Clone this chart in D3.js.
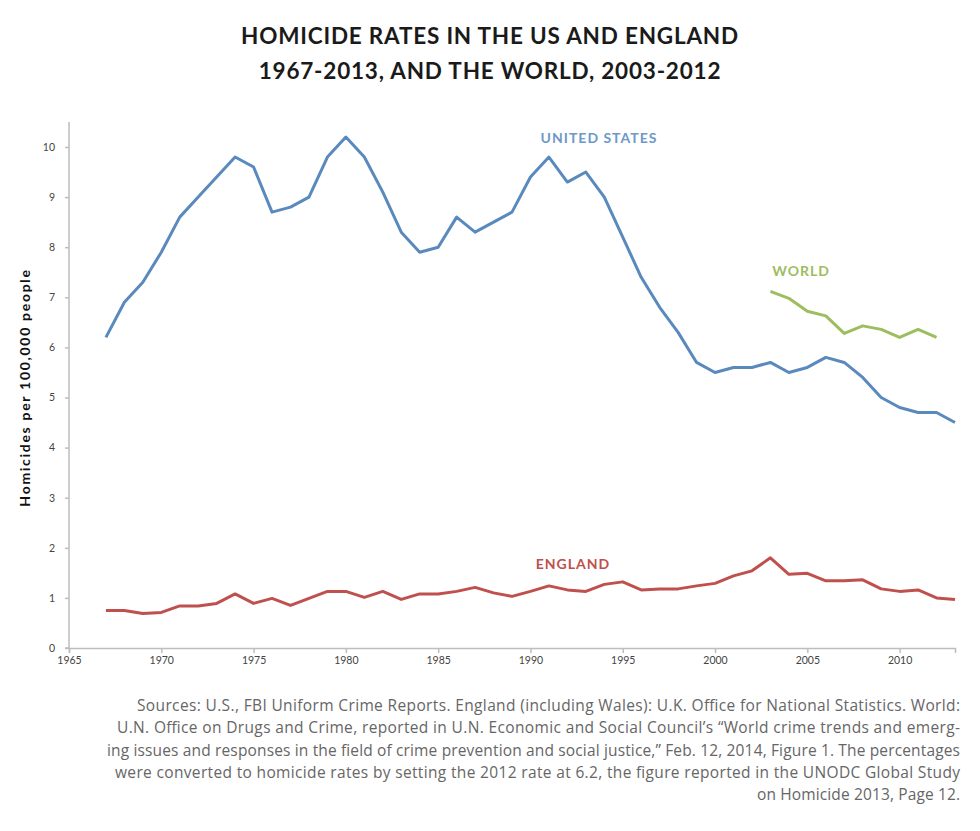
<!DOCTYPE html>
<html>
<head>
<meta charset="utf-8">
<script src="https://cdn.jsdelivr.net/npm/d3@7"></script>
<style>
  body { margin: 0; background: #fff; }
  svg text { font-family: Lato, "Open Sans", sans-serif; }
  svg text.src { font-family: "Open Sans", sans-serif; }
</style>
</head>
<body>
<div id="chart"></div>
<script>
const usYears = d3.range(1967, 2014);
const usRates = [6.2, 6.9, 7.3, 7.9, 8.6, 9.0, 9.4, 9.8, 9.6, 8.7,
  8.8, 9.0, 9.8, 10.2, 9.8, 9.1, 8.3, 7.9, 8.0, 8.6,
  8.3, 8.5, 8.7, 9.4, 9.8, 9.3, 9.5, 9.0, 8.2, 7.4,
  6.8, 6.3, 5.7, 5.5, 5.6, 5.6, 5.7, 5.5, 5.6, 5.8,
  5.7, 5.4, 5.0, 4.8, 4.7, 4.7, 4.5];

const englandYears = d3.range(1967, 2014);
const englandRates = [0.75, 0.75, 0.69, 0.71, 0.84, 0.84, 0.89, 1.08, 0.89, 0.99,
  0.85, 0.99, 1.13, 1.13, 1.01, 1.13, 0.97, 1.08, 1.08, 1.13,
  1.21, 1.1, 1.03, 1.13, 1.24, 1.16, 1.13, 1.27, 1.32, 1.16,
  1.18, 1.18, 1.24, 1.29, 1.44, 1.54, 1.80, 1.47, 1.49, 1.34,
  1.34, 1.36, 1.18, 1.13, 1.16, 1.0, 0.97];

const worldYears = d3.range(2003, 2013);
const worldRates = [7.12, 6.98, 6.72, 6.63, 6.28, 6.43, 6.36, 6.2, 6.36, 6.2];

const xTicks = [1965, 1970, 1975, 1980, 1985, 1990, 1995, 2000, 2005, 2010];
const yTicks = [0, 1, 2, 3, 4, 5, 6, 7, 8, 9, 10];

const titleLines = ["HOMICIDE RATES IN THE US AND ENGLAND", "1967-2013, AND THE WORLD, 2003-2012"];
const sourceLines = [
  "Sources: U.S., FBI Uniform Crime Reports. England (including Wales): U.K. Office for National Statistics. World:",
  "U.N. Office on Drugs and Crime, reported in U.N. Economic and Social Council\u2019s \u201cWorld crime trends and emerg-",
  "ing issues and responses in the field of crime prevention and social justice,\u201d Feb. 12, 2014, Figure 1. The percentages",
  "were converted to homicide rates by setting the 2012 rate at 6.2, the figure reported in the UNODC Global Study",
  "on Homicide 2013, Page 12."
];
// set widths of the source lines, matching the original typesetting
const sourceWidths = [823, 843, 853, 845, 203];

const width = 980, height = 831;
const margin = { left: 69, right: 25, top: 147, bottom: 183 };

const svg = d3.select("#chart").append("svg")
  .attr("width", width)
  .attr("height", height);

const x = d3.scaleLinear().domain([1965, 2013]).range([margin.left, width - margin.right]);
const y = d3.scaleLinear().domain([0, 10]).range([height - margin.bottom, margin.top]);

// title
svg.selectAll(".title")
  .data(titleLines)
  .enter().append("text")
  .attr("x", 490)
  .attr("y", (d, i) => 44 + i * 35)
  .attr("text-anchor", "middle")
  .attr("font-size", 22.5)
  .attr("font-weight", 700)
  .attr("letter-spacing", 0.8)
  .attr("fill", "#1a1a1a")
  .text(d => d);

// axes
const xAxis = svg.append("g")
  .attr("transform", `translate(0,${y(0)})`)
  .call(d3.axisBottom(x).tickValues(xTicks).tickFormat(d3.format("d")).tickSize(5).tickPadding(4));

const yAxis = svg.append("g")
  .attr("transform", `translate(${margin.left},0)`)
  .call(d3.axisLeft(y).tickValues(yTicks).tickSize(4).tickPadding(10));

[xAxis, yAxis].forEach(g => {
  g.select(".domain").attr("stroke", "#bdbdbd").attr("stroke-width", 1.5);
  g.selectAll(".tick line").attr("stroke", "#bdbdbd").attr("stroke-width", 1.5);
  g.selectAll(".tick text").attr("fill", "#444").attr("font-size", 10.5);
});
// extend y axis above 10
yAxis.select(".domain").attr("d", `M-4,${y(0)}H0V${y(10.5)}`);

svg.append("text")
  .attr("transform", `translate(30,${y(5.2)}) rotate(-90)`)
  .attr("text-anchor", "middle")
  .attr("font-size", 14)
  .attr("font-weight", 700)
  .attr("letter-spacing", 1.7)
  .attr("fill", "#111")
  .text("Homicides per 100,000 people");

// lines
const line = d3.line().x(d => x(d[0])).y(d => y(d[1]));

const series = [
  { name: "UNITED STATES", years: usYears, values: usRates, color: "#5a89bd", labelColor: "#6d98c8", lx: 599, ly: 143 },
  { name: "WORLD", years: worldYears, values: worldRates, color: "#9dbd5f", labelColor: "#9dbd5f", lx: 801, ly: 276 },
  { name: "ENGLAND", years: englandYears, values: englandRates, color: "#c0504d", labelColor: "#c0504d", lx: 573, ly: 569 }
];

series.forEach(s => {
  svg.append("path")
    .datum(d3.zip(s.years, s.values))
    .attr("fill", "none")
    .attr("stroke", s.color)
    .attr("stroke-width", 3)
    .attr("stroke-linejoin", "round")
    .attr("d", line);
  svg.append("text")
    .attr("x", s.lx)
    .attr("y", s.ly)
    .attr("text-anchor", "middle")
    .attr("font-size", 14)
    .attr("font-weight", 700)
    .attr("letter-spacing", 1)
    .attr("fill", s.labelColor)
    .text(s.name);
});

// sources
svg.selectAll(".src")
  .data(sourceLines)
  .enter().append("text")
  .attr("class", "src")
  .attr("x", (d, i) => 960 - sourceWidths[i])
  .attr("y", (d, i) => 711 + i * 22.3)
  .attr("textLength", (d, i) => sourceWidths[i])
  .attr("lengthAdjust", "spacing")
  .attr("font-size", 15.5)
  .attr("fill", "#666")
  .text(d => d);
</script>
</body>
</html>
